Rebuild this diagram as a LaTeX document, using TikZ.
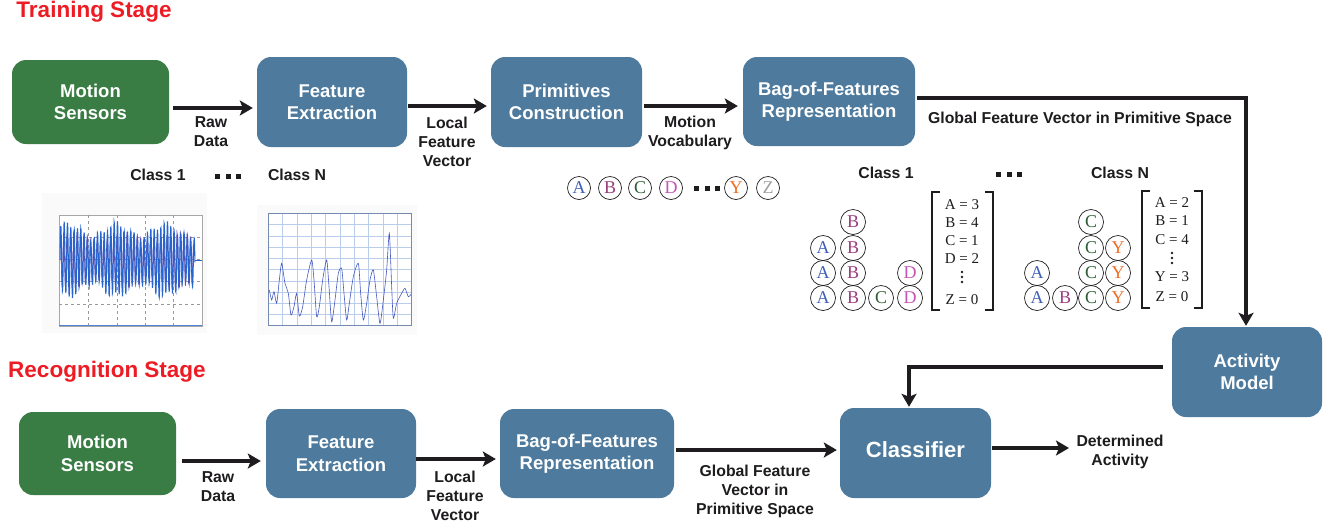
\documentclass[tikz,border=0pt]{standalone}
\usepackage{fontspec}
\setmainfont{Liberation Sans}
\newfontfamily\serifx{Liberation Serif}
\usetikzlibrary{arrows.meta,calc}
\definecolor{boxblue}{RGB}{78,123,157}
\definecolor{boxgreen}{RGB}{57,125,68}
\definecolor{ink}{RGB}{30,28,30}
\definecolor{stagered}{RGB}{237,28,36}
\definecolor{colA}{RGB}{64,96,184}
\definecolor{colB}{RGB}{155,61,125}
\definecolor{colC}{RGB}{45,94,53}
\definecolor{colD}{RGB}{196,85,181}
\definecolor{colY}{RGB}{242,107,33}
\definecolor{colZ}{RGB}{160,160,160}
\definecolor{sigblue}{RGB}{40,100,205}
\definecolor{sigpurple}{RGB}{110,70,170}
\definecolor{gridblue}{RGB}{185,205,235}
\begin{document}
\begin{tikzpicture}[x=1pt,y=-1pt,
  box/.style={rounded corners=14pt, text=white, align=center, inner sep=0pt,
    font=\bfseries\fontsize{18.5}{22.5}\selectfont},
  bluebox/.style={box, fill=boxblue},
  greenbox/.style={box, fill=boxgreen},
  lbl/.style={font=\bfseries\fontsize{15.8}{19}\selectfont, align=center, text=ink, inner sep=0pt},
  stagetitle/.style={font=\bfseries\fontsize{22.5}{26}\selectfont, text=stagered, inner sep=0pt},
  arr/.style={line width=3.2pt, draw=ink, -{Stealth[length=13pt,width=15pt,inset=3pt]}},
  vc/.style={circle, draw=ink, line width=0.7pt, minimum size=23pt, inner sep=0pt,
    font=\serifx\fontsize{18}{18}\selectfont},
  hc/.style={vc, minimum size=25pt},
  cnt/.style={font=\serifx\fontsize{15}{15}\selectfont, text=ink, inner sep=0pt},
  brk/.style={line width=1.8pt, draw=ink},
  sq/.style={fill=ink}
]
\useasboundingbox (0,0) rectangle (1340,523);
\fill[white] (0,0) rectangle (1340,523);

% ---------- titles ----------
\node[stagetitle] (ttrain) at (94,12) {Training Stage};
\node[stagetitle] (trec) at (107,372) {Recognition Stage};

% ---------- training row ----------
\node[greenbox, minimum width=157pt, minimum height=84pt] (ms1) at (90.5,102) {Motion\\Sensors};
\node[bluebox, minimum width=150pt, minimum height=90pt] (fe1) at (332,102) {Feature\\Extraction};
\node[bluebox, minimum width=151pt, minimum height=90pt] (pc1) at (566.5,102) {Primitives\\Construction};
\node[bluebox, minimum width=172pt, minimum height=89pt] (bof1) at (829,101.5) {Bag-of-Features\\Representation};
\node[bluebox, minimum width=150pt, minimum height=90pt] (am) at (1247,372) {Activity\\Model};

% ---------- recognition row ----------
\node[greenbox, minimum width=157pt, minimum height=83pt] (ms2) at (97.5,453.5) {Motion\\Sensors};
\node[bluebox, minimum width=150pt, minimum height=89pt] (fe2) at (341,453.5) {Feature\\Extraction};
\node[bluebox, minimum width=174pt, minimum height=89pt] (bof2) at (587,453.5) {Bag-of-Features\\Representation};
\node[bluebox, minimum width=151pt, minimum height=90pt, font=\bfseries\fontsize{22}{26}\selectfont] (cl) at (915.5,453) {\raisebox{6pt}{Classifier}};

% ---------- connectors ----------
\draw[arr] ($(ms1.east)+(4,6)$) -- ($(fe1.west)+(-4,6)$);
\draw[arr] ($(fe1.east)+(1,4)$) -- ($(pc1.west)+(-4,4)$);
\draw[arr] ($(pc1.east)+(2,4)$) -- ($(bof1.west)+(-5,4.5)$);
\draw[arr] ($(bof1.east)+(2,-3.5)$) -| ($(am.north)+(-1,-1)$);
\draw[arr] ($(am.west)+(-9,-5)$) -| ($(cl.north)+(-6.5,-1)$);
\coordinate (detend) at (1069,448);
\draw[arr] ($(cl.east)+(1,-5)$) -- (detend);
\draw[arr] ($(ms2.east)+(6,7.5)$) -- ($(fe2.west)+(-5,7.5)$);
\draw[arr] ($(fe2.east)+(0,5.5)$) -- ($(bof2.west)+(-4,5.5)$);
\draw[arr] ($(bof2.east)+(2,-3.5)$) -- ($(cl.west)+(-3,-3)$);

% ---------- connector labels ----------
\node[lbl] (l1) at (211,132) {Raw\\Data};
\node[lbl] (l2) at (447,141.5) {Local\\Feature\\Vector};
\node[lbl] (l3) at (690,132.5) {Motion\\Vocabulary};
\node[lbl] (l4) at (1080,119) {Global Feature Vector in Primitive Space};
\node[lbl] (l5) at (218,486.5) {Raw\\Data};
\node[lbl] (l6) at (455,495.5) {Local\\Feature\\Vector};
\node[lbl] (l7) at (755,491.5) {Global Feature\\Vector in\\Primitive Space};
\node[lbl] (l8) at (1120,451.5) {Determined\\Activity};

% ---------- class labels (signals) ----------
\node[lbl] (c1a) at (158,175) {Class 1};
\node[lbl] (cna) at (297,175) {Class N};
\foreach \dx in {-10.5,0,10.5} \fill[sq] ({228+\dx-2.5},173.5) rectangle ++(5,5);

% ---------- plot 1 ----------
\fill[black!2] (42,193) rectangle (207,333);
\fill[white] (59,215) rectangle (202,326);
\draw[black!35, line width=0.5pt] (59,215) rectangle (202,326);
\begin{scope}[shift={(30,160)}]
\begin{scope}[x=0.33333pt,y=-0.33333pt]
  \foreach \gx in {175,260,345,430} \draw[black!40, dashed, line width=0.3pt] (\gx,165) -- (\gx,497);
  \foreach \gy in {231,298,364,431} \draw[black!40, dashed, line width=0.3pt] (88,\gy) -- (515,\gy);
  \draw[sigpurple, line width=0.6pt, domain=2:400, samples=520]
     plot ({90+\x}, {300 - (70+15*sin(\x*2.3))*sin(\x*36+50)});
  \draw[sigblue, line width=1pt, domain=0:405, samples=560]
     plot ({90+\x}, {300 - (88+20*sin(\x*2.5+30))*sin(\x*36) - 10*sin(\x*7)});
  \draw[sigblue, line width=1pt] (495,300) -- (515,300);
  \draw[sigblue!80, line width=1.4pt] (88,497) -- (515,497);
\end{scope}
\end{scope}

% ---------- plot 2 ----------
\fill[black!2] (257,205) rectangle (417,335);
\fill[white] (268,213) rectangle (412,326);
\begin{scope}[shift={(30,160)}]
\begin{scope}[x=0.33333pt,y=-0.33333pt]
  \foreach \i in {1,...,9} \draw[gridblue, line width=0.4pt] ({715+43*\i},160) -- ({715+43*\i},497);
  \foreach \j in {1,...,9} \draw[gridblue, line width=0.4pt] (715,{160+33.7*\j}) -- (1145,{160+33.7*\j});
  \draw[sigblue!60!sigpurple, line width=0.6pt] plot[smooth, tension=0.4] coordinates {
    (718,390) (725,420) (732,395) (740,430) (748,360) (755,310) (765,370) (775,400)
    (783,465) (792,440) (800,400) (808,468) (818,440) (830,360) (845,300) (852,360)
    (860,470) (868,440) (878,360) (890,300) (897,380) (905,485) (915,420) (925,340)
    (935,325) (942,400) (950,480) (958,430) (970,350) (985,310) (992,400) (1000,480)
    (1010,430) (1020,360) (1030,330) (1040,410) (1050,490) (1060,420) (1070,330)
    (1078,220) (1085,380) (1090,475) (1100,430) (1115,400) (1125,385) (1135,410) (1145,400)};
  \draw[sigblue!60!black!60, line width=0.6pt] (715,160) rectangle (1145,497);
\end{scope}
\end{scope}

% ---------- vocabulary ----------
\node[vc, text=colA] (va) at (579,188) {A};
\node[vc, text=colB] (vb) at (610,188) {B};
\node[vc, text=colC] (vcc) at (640,188) {C};
\node[vc, text=colD] (vd) at (671,188) {D};
\foreach \dx in {-10.5,0,10.5} \fill[sq] ({707+\dx-2.5},185.5) rectangle ++(5,5);
\node[vc, text=colY] (vy) at (736,188) {Y};
\node[vc, text=colZ] (vz) at (768,188) {Z};

% ---------- histogram class 1 ----------
\node[lbl] (c1b) at (886,173) {Class 1};
\foreach \dx in {-10.5,0,10.5} \fill[sq] ({1009+\dx-2.5},171.5) rectangle ++(5,5);
\node[lbl] (cnb) at (1120,173) {Class N};

\node[hc, text=colA] (ha1) at (823,298) {A};
\node[hc, text=colA] (ha2) at (823,273) {A};
\node[hc, text=colA] (ha3) at (823,248) {A};
\node[hc, text=colB] (hb1) at (853,298) {B};
\node[hc, text=colB] (hb2) at (853,273) {B};
\node[hc, text=colB] (hb3) at (853,248) {B};
\node[hc, text=colB] (hb4) at (853,222) {B};
\node[hc, text=colC] (hc1) at (881,298) {C};
\node[hc, text=colD] (hd1) at (910,298) {D};
\node[hc, text=colD] (hd2) at (910,273) {D};

\draw[brk] (940,192) -- (932,192) -- (932,310) -- (940,310);
\draw[brk] (985,192) -- (993,192) -- (993,310) -- (985,310);
\node[cnt] (k1a) at (962,205) {A = 3};
\node[cnt] (k1b) at (962,223) {B = 4};
\node[cnt] (k1c) at (962,241) {C = 1};
\node[cnt] (k1d) at (962,259) {D = 2};
\foreach \dy in {-5,0,5} \fill[ink] (962,{277+\dy}) circle (1.4);
\node[cnt] (k1z) at (962,300) {Z = 0};

% ---------- histogram class N ----------
\node[hc, text=colA] (na1) at (1037,298) {A};
\node[hc, text=colA] (na2) at (1037,273) {A};
\node[hc, text=colB] (nb1) at (1065,298) {B};
\node[hc, text=colC] (nc1) at (1091,298) {C};
\node[hc, text=colC] (nc2) at (1091,273) {C};
\node[hc, text=colC] (nc3) at (1091,248) {C};
\node[hc, text=colC] (nc4) at (1091,222) {C};
\node[hc, text=colY] (ny1) at (1118,298) {Y};
\node[hc, text=colY] (ny2) at (1118,273) {Y};
\node[hc, text=colY] (ny3) at (1118,248) {Y};

\draw[brk] (1150,191) -- (1142,191) -- (1142,308) -- (1150,308);
\draw[brk] (1194,191) -- (1202,191) -- (1202,308) -- (1194,308);
\node[cnt] (kna) at (1172,203) {A = 2};
\node[cnt] (knb) at (1172,221) {B = 1};
\node[cnt] (knc) at (1172,240) {C = 4};
\foreach \dy in {-5,0,5} \fill[ink] (1172,{258+\dy}) circle (1.4);
\node[cnt] (kny) at (1172,277) {Y = 3};
\node[cnt] (knz) at (1172,297) {Z = 0};
\end{tikzpicture}
\end{document}
